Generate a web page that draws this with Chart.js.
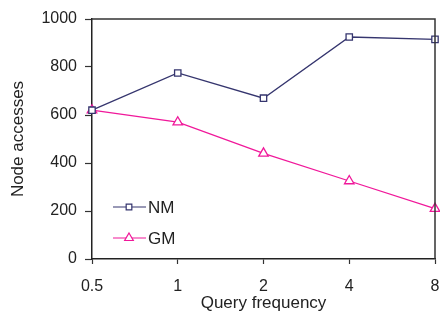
<!DOCTYPE html>
<html><head><meta charset="utf-8">
<script src="https://cdn.jsdelivr.net/npm/chart.js@4/dist/chart.umd.min.js"></script>
<style>html,body{margin:0;padding:0;background:#fff}#wrap{width:440px;height:320px}</style>
</head><body><div id="wrap"><canvas id="c" width="440" height="320"></canvas></div>
<script>
const categories = ["0.5", "1", "2", "4", "8"];
const nmValues = [620, 775, 670, 925, 915];
const gmValues = [620, 570, 440, 325, 210];
const yTicks = [0, 200, 400, 600, 800, 1000];

const NM_COLOR = '#35356e';
const GM_COLOR = '#f0189a';
const FONT = 'Liberation Sans, Arial, sans-serif';

const framePlugin = {
  id: 'frame',
  afterDatasetsDraw(chart) {
    const {ctx, chartArea: a} = chart;
    ctx.save();
    ctx.strokeStyle = '#333';
    ctx.lineWidth = 1.5;
    ctx.beginPath();
    ctx.moveTo(a.left, a.top); ctx.lineTo(a.right, a.top); ctx.lineTo(a.right, a.bottom);
    ctx.stroke();
    ctx.restore();
  }
};

const legendPlugin = {
  id: 'customLegend',
  afterDraw(chart) {
    const {ctx} = chart;
    const items = [
      {ds: chart.data.datasets[0], y: 207},
      {ds: chart.data.datasets[1], y: 238}
    ];
    ctx.save();
    items.forEach(it => {
      const ds = it.ds;
      ctx.strokeStyle = ds.borderColor;
      ctx.lineWidth = 1.2;
      ctx.beginPath(); ctx.moveTo(113, it.y); ctx.lineTo(146, it.y); ctx.stroke();
      ctx.fillStyle = '#ffffff';
      Chart.helpers.drawPoint(ctx, {pointStyle: ds.pointStyle, radius: ds.pointStyle === 'rect' ? 4 : 5, borderWidth: 1.2}, 129, it.y);
      ctx.fillStyle = '#222';
      ctx.font = '17px ' + FONT;
      ctx.textBaseline = 'middle';
      ctx.fillText(ds.label, 148, it.y + 1);
    });
    ctx.restore();
  }
};

new Chart(document.getElementById('c'), {
  type: 'line',
  data: {
    labels: categories,
    datasets: [
      {label: 'NM', data: nmValues, borderColor: NM_COLOR, backgroundColor: '#ffffff',
       pointStyle: 'rect', pointRadius: 4.5, pointBorderWidth: 1.3, borderWidth: 1.3, tension: 0, clip: false},
      {label: 'GM', data: gmValues, borderColor: GM_COLOR, backgroundColor: '#ffffff',
       pointStyle: 'triangle', pointRadius: 5.5, pointBorderWidth: 1.3, borderWidth: 1.3, tension: 0, clip: false}
    ]
  },
  options: {
    responsive: false,
    animation: false,
    layout: {autoPadding: false, padding: {top: 19, right: 5, left: 0, bottom: 0}},
    plugins: {legend: {display: false}, tooltip: {enabled: false}},
    scales: {
      x: {
        type: 'category',
        offset: false,
        grid: {display: true, drawOnChartArea: false, drawTicks: true, tickLength: 5, color: '#333', tickWidth: 1.2},
        border: {display: true, color: '#222', width: 1.5},
        ticks: {color: '#222', font: {family: FONT, size: 16}, padding: 13, maxRotation: 0, autoSkip: false},
        title: {display: true, text: 'Query frequency', color: '#222', font: {family: FONT, size: 17}, padding: {top: 2, bottom: 6}},
        afterFit(scale) { scale.height = 61; scale.paddingLeft = 0; scale.paddingRight = 0; }
      },
      y: {
        min: 0, max: 1000,
        afterBuildTicks(scale) { scale.ticks = yTicks.map(v => ({value: v})); },
        grid: {display: true, drawOnChartArea: false, drawTicks: true, tickLength: 7, color: '#333', tickWidth: 1.2},
        border: {display: true, color: '#222', width: 1.5},
        ticks: {color: '#222', font: {family: FONT, size: 16}, padding: 8, callback: v => String(v)},
        title: {display: true, text: 'Node accesses', color: '#222', font: {family: FONT, size: 17}, padding: {top: 8, bottom: 4}},
        afterFit(scale) { scale.width = 92; scale.paddingTop = 0; scale.paddingBottom = 0; }
      }
    }
  },
  plugins: [framePlugin, legendPlugin]
});
</script></body></html>
